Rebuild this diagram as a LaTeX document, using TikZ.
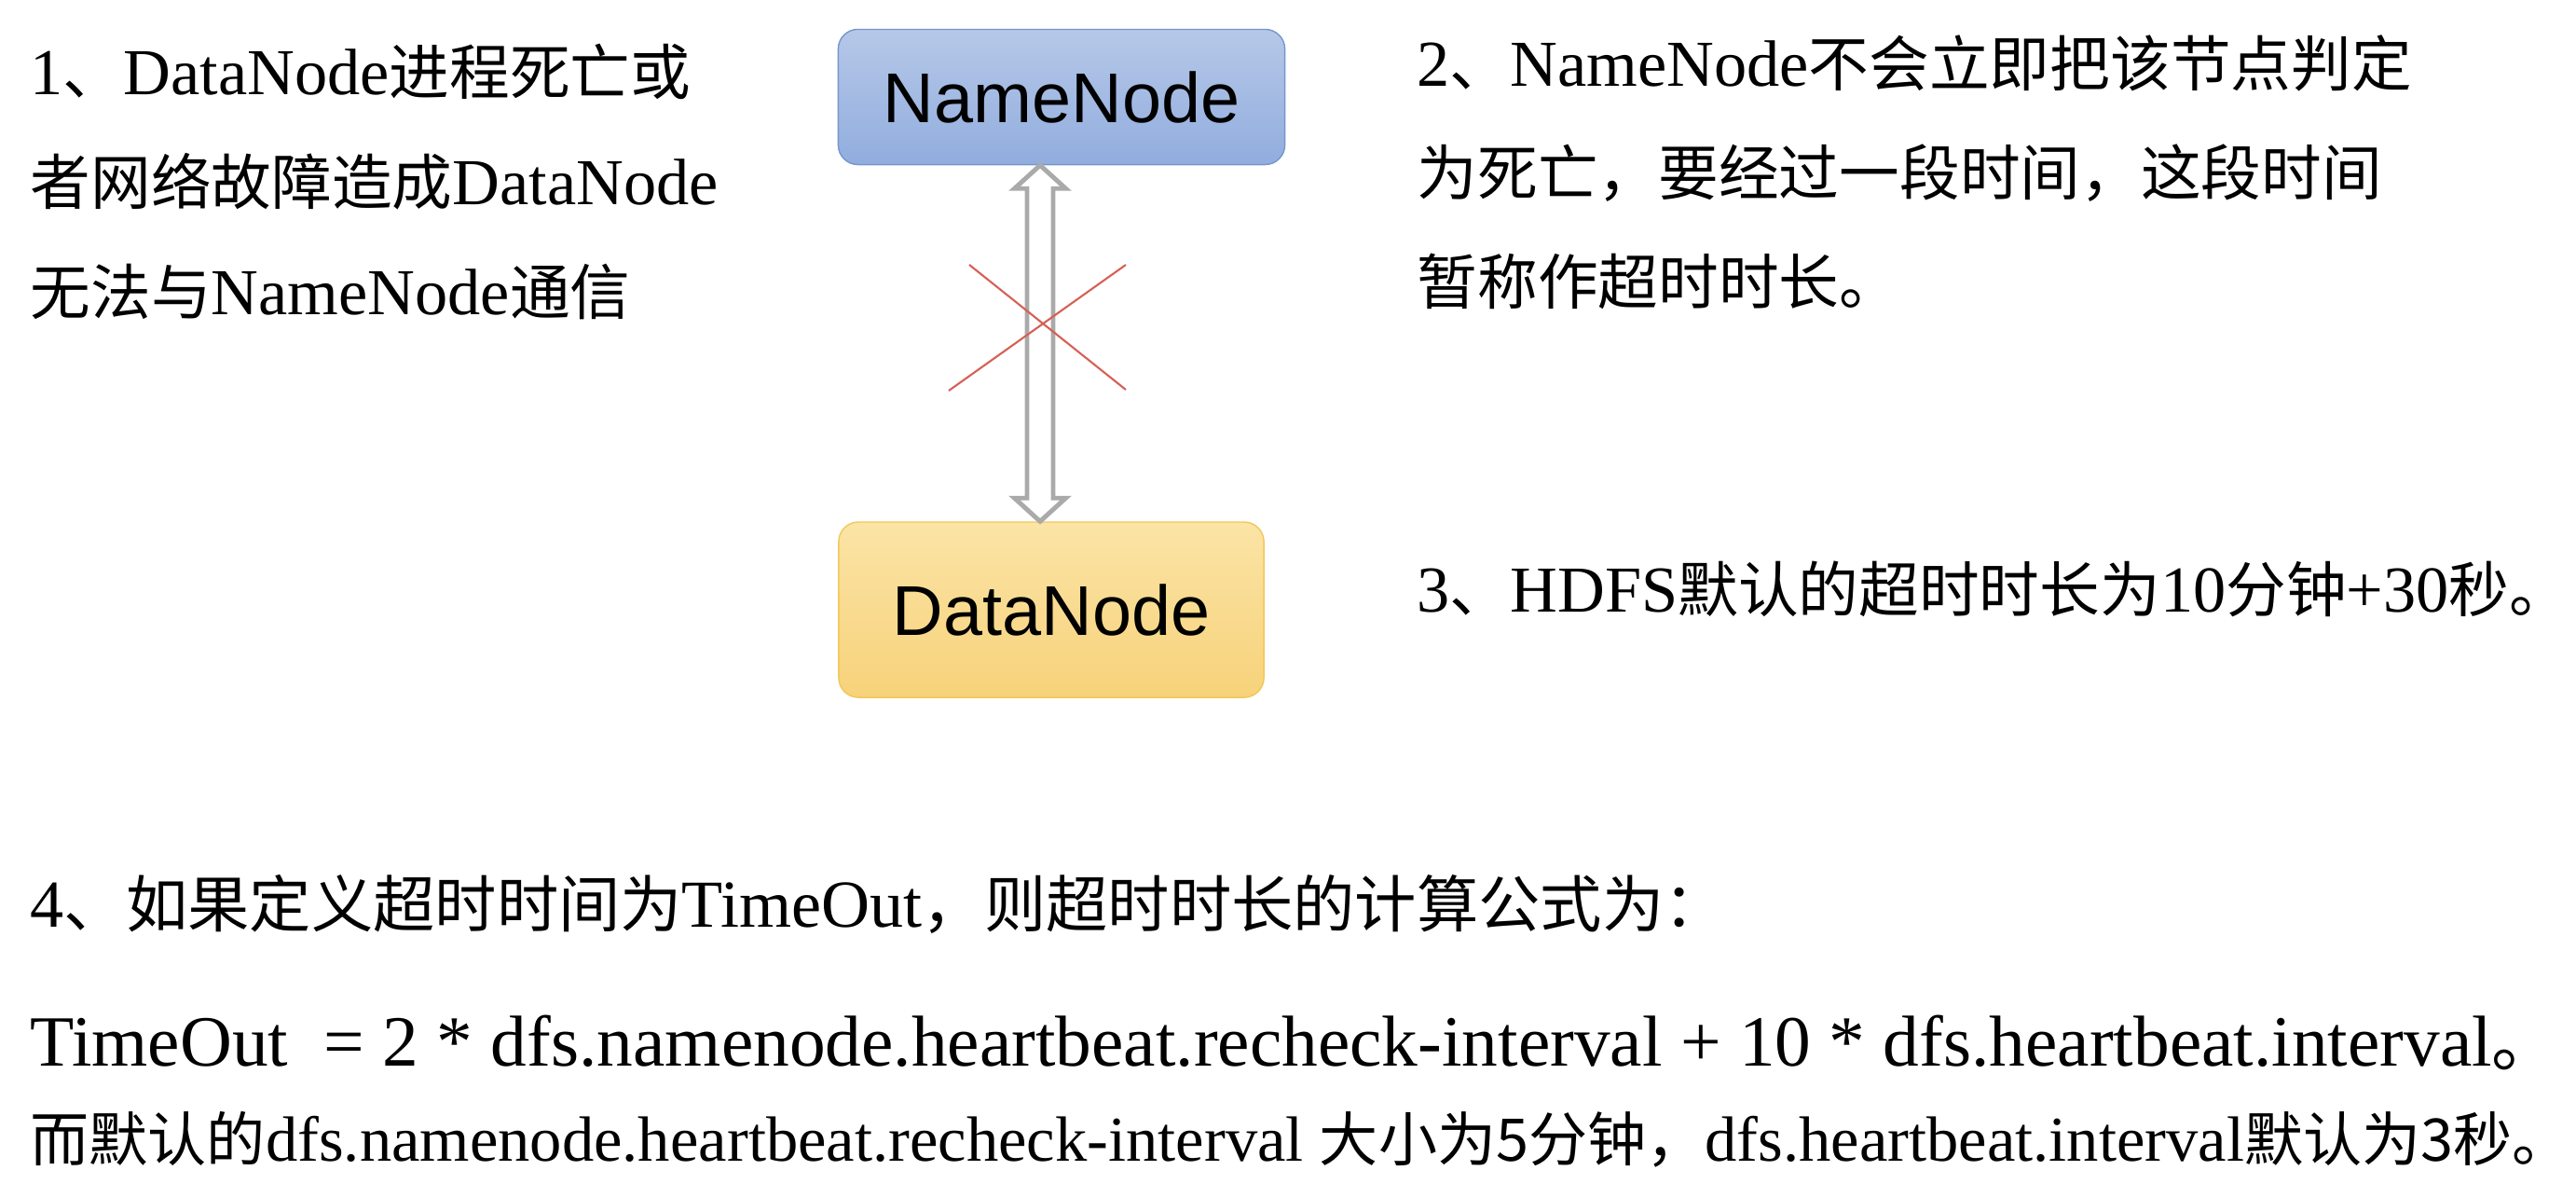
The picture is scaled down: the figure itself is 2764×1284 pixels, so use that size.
\documentclass[tikz,border=0pt]{standalone}
\usepackage{fontspec}
\setmainfont{Liberation Serif}
\newfontfamily\cjk[Scale=0.92]{Noto Sans CJK SC}
\newfontfamily\arial{Liberation Sans}
\usetikzlibrary{calc}
\newcommand{\zh}[1]{{\cjk #1}}
\definecolor{nntop}{RGB}{182,200,232}
\definecolor{nnbot}{RGB}{145,173,222}
\definecolor{nnline}{RGB}{118,150,206}
\definecolor{dntop}{RGB}{251,228,166}
\definecolor{dnbot}{RGB}{247,210,122}
\definecolor{dnline}{RGB}{240,200,90}
\definecolor{arrowgray}{RGB}{170,170,170}
\definecolor{crossred}{RGB}{214,96,86}
\tikzset{
  note/.style={anchor=base west, inner sep=0pt, font=\fontsize{20}{24}\selectfont},
  box/.style={draw, rounded corners=6pt, inner sep=0pt,
    font=\arial\fontsize{21.5}{25}\selectfont},
  updown/.style={draw=arrowgray, line width=1.4pt, fill=white, line join=miter},
}

\begin{document}
\begin{tikzpicture}[x=0.01cm, y=-0.01cm]
        \useasboundingbox (0, 0) rectangle (2764, 1284);
        % boxes
        \node[box, draw=nnline, top color=nntop, bottom color=nnbot,
          minimum width=4.79cm, minimum height=1.45cm] (nn) at (1139, 104) {NameNode};
        \node[box, draw=dnline, top color=dntop, bottom color=dnbot,
          minimum width=4.56cm, minimum height=1.88cm] (dn) at (1128, 654) {DataNode};
        \coordinate (ax) at (1116, 0);
        \draw[updown] (ax |- nn.south) -- ++(27.5, 25) -- ++(-13.5, 0)
          -- ($(ax |- dn.north) + (14, -25)$) -- ++(13.5, 0) -- (ax |- dn.north)
          -- ++(-27.5, -25) -- ++(13.5, 0)
          -- ($(ax |- nn.south) + (-14, 25)$) -- ++(-13.5, 0) -- cycle;
        \draw[crossred, line width=0.6pt] (1040, 284) -- (1208, 418);
        \draw[crossred, line width=0.6pt] (1018, 419) -- (1208, 284);
        % notes
        \foreach \t [count=\i from 0] in {{1\zh{、}DataNode\zh{进程死亡或}},
          {\zh{者网络故障造成}DataNode}, {\zh{无法与}NameNode\zh{通信}}}{
          \node[note] (a\i) at (32, 101 + 118 * \i) {\t};
        }
        \foreach \t [count=\i from 0] in {{2\zh{、}NameNode\zh{不会立即把该节点判定}},
          {\zh{为死亡，要经过一段时间，这段时间}}, {\zh{暂称作超时时长。}}}{
          \node[note] (b\i) at (1520, 92 + 117 * \i) {\t};
        }
        \node[note] (c) at (1520, 656) {3\zh{、}HDFS\zh{默认的超时时长为}10\zh{分钟}+30\zh{秒。}};
        \node[note, font=\fontsize{20.5}{24}\selectfont] (d) at (32, 994)
          {4\zh{、如果定义超时时间为}TimeOut\zh{，则超时时长的计算公式为：}};
        \node[note, font=\fontsize{22}{26}\selectfont] (e) at (32, 1143)
          {TimeOut~ = 2 * dfs.namenode.heartbeat.recheck-interval + 10 * dfs.heartbeat.interval\zh{。}};
        \node[note, font=\fontsize{19.5}{23}\selectfont] (f) at (32, 1245)
          {\zh{而默认的}dfs.namenode.heartbeat.recheck-interval \zh{大小为5分钟，}dfs.heartbeat.interval\zh{默认为3秒。}};
      \end{tikzpicture}
\end{document}
